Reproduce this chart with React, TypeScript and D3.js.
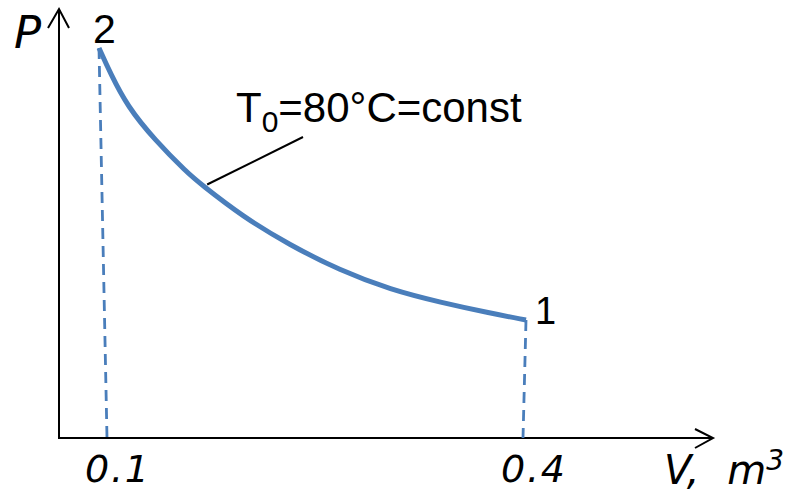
import React, { useEffect, useRef } from "react";
import * as d3 from "d3";

// isotherm curve (V in m^3, P in arbitrary units)
const volumes = [0.1, 0.108, 0.12, 0.139, 0.162, 0.171, 0.201, 0.234, 0.269, 0.305, 0.34, 0.375, 0.4];
const pressures = [4.0, 3.74, 3.4, 3.06, 2.72, 2.61, 2.27, 1.98, 1.72, 1.52, 1.39, 1.28, 1.21];

const tickValues = [0.1, 0.4];
const tickLabels = ["0.1", "0.4"];
const stateLabels = ["2", "1"];

const blue = "#4a7ebb";

export default function App() {
  const ref = useRef<SVGSVGElement>(null);

  useEffect(() => {
    const svg = d3.select(ref.current);
    svg.selectAll("*").remove();

    const x = d3.scaleLinear().domain([0.1, 0.4]).range([99, 526]);
    // the dashed drop lines land a little off the curve ends
    const xBase = d3.scaleLinear().domain([0.1, 0.4]).range([107, 523]);
    const y = d3.scaleLinear().domain([0, 4]).range([438, 48]);

    const axisY = y(0);
    const axisX = 59;

    // axes
    svg.append("line")
      .attr("x1", axisX).attr("y1", axisY)
      .attr("x2", axisX).attr("y2", 10)
      .attr("stroke", "#000").attr("stroke-width", 2);
    svg.append("path")
      .attr("d", `M${axisX - 11},${28} L${axisX},${9} L${axisX + 10},${28}`)
      .attr("fill", "none").attr("stroke", "#000").attr("stroke-width", 2);

    svg.append("line")
      .attr("x1", axisX - 1).attr("y1", axisY)
      .attr("x2", 713).attr("y2", axisY)
      .attr("stroke", "#000").attr("stroke-width", 2);
    svg.append("path")
      .attr("d", `M695,${axisY - 9} L713,${axisY} L695,${axisY + 10}`)
      .attr("fill", "none").attr("stroke", "#000").attr("stroke-width", 2);

    const data = volumes.map((v, i) => ({ v, p: pressures[i] }));
    const ends = [data[0], data[data.length - 1]];

    // dashed drop lines
    svg.selectAll(".drop")
      .data(ends)
      .join("line")
      .attr("class", "drop")
      .attr("x1", d => x(d.v)).attr("y1", d => y(d.p))
      .attr("x2", d => xBase(d.v)).attr("y2", axisY)
      .attr("stroke", blue)
      .attr("stroke-width", 2.8)
      .attr("stroke-dasharray", "11,7");

    const line = d3.line<{ v: number; p: number }>()
      .x(d => x(d.v))
      .y(d => y(d.p))
      .curve(d3.curveBasis);

    svg.append("path")
      .datum(data)
      .attr("d", line)
      .attr("fill", "none")
      .attr("stroke", blue)
      .attr("stroke-width", 5);

    // tick labels
    svg.selectAll(".tick-label")
      .data(tickValues)
      .join("text")
      .attr("class", "tick-label")
      .attr("x", d => xBase(d) + 10)
      .attr("y", 482)
      .attr("text-anchor", "middle")
      .attr("textLength", 64)
      .attr("lengthAdjust", "spacing")
      .style("font-family", "'DejaVu Sans', Verdana, sans-serif")
      .style("font-style", "italic")
      .style("font-size", "38px")
      .text((d, i) => tickLabels[i]);

    // state numbers
    svg.append("text")
      .attr("x", 93).attr("y", 43)
      .style("font-family", "'Liberation Sans', Arial, sans-serif")
      .style("font-size", "41px")
      .text(stateLabels[0]);
    svg.append("text")
      .attr("x", 535).attr("y", 324)
      .style("font-family", "'Liberation Sans', Arial, sans-serif")
      .style("font-size", "38px")
      .text(stateLabels[1]);

    // axis titles
    svg.append("text")
      .attr("x", 14).attr("y", 48)
      .style("font-family", "'DejaVu Sans', Verdana, sans-serif")
      .style("font-style", "italic")
      .style("font-size", "45px")
      .text("P");

    const vLabel = svg.append("text")
      .attr("x", 664).attr("y", 484)
      .style("font-family", "'DejaVu Sans', Verdana, sans-serif")
      .style("font-style", "italic")
      .style("font-size", "40px");
    vLabel.append("tspan").text("V, ");
    vLabel.append("tspan").attr("dx", 15).text("m");
    vLabel.append("tspan").attr("dy", -14).style("font-size", "28px").text("3");

    // curve annotation
    const label = svg.append("text")
      .attr("x", 236).attr("y", 122)
      .style("font-family", "'Liberation Sans', Arial, sans-serif")
      .style("font-size", "42px");
    label.append("tspan").text("T");
    label.append("tspan").attr("dy", 10).style("font-size", "30px").text("0");
    label.append("tspan").attr("dy", -10).text("=80°C=const");

    svg.append("line")
      .attr("x1", x(0.176)).attr("y1", y(2.6))
      .attr("x2", 303).attr("y2", 137)
      .attr("stroke", "#000").attr("stroke-width", 2);
  }, []);

  return (
    <svg
      ref={ref}
      width={795}
      height={494}
      style={{ position: "absolute", left: 0, top: 0, background: "#fff" }}
    />
  );
}
